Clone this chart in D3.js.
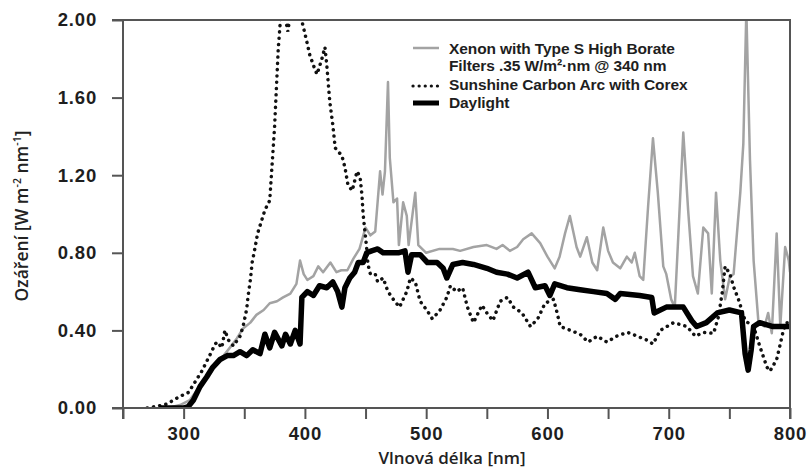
<!DOCTYPE html>
<html>
<head>
<meta charset="utf-8">
<script src="https://cdn.jsdelivr.net/npm/d3@7/dist/d3.min.js"></script>
<style>
  html, body { margin: 0; padding: 0; background: #fff; }
  svg { display: block; }
</style>
</head>
<body>
<svg id="chart" width="811" height="472"></svg>
<script>
// Spectral irradiance of three light sources, W m^-2 nm^-1 against wavelength (nm)

// Xenon arc with Type S high borate filters
const xenonNm = [280,290,297,305,313,322,327,333,338,344,349,355,360,366,371,377,382,388,393,396,399,402,407,411,415,421,426,430,435,440,445,450,454,458,462,464,466,468.5,470,473,476,477.5,481,484,485.5,491,493.5,500,511,522,528,539,550,558,563,569,575,580,587,594,600,606,610,614.5,618.5,624,627,632.5,637,641,646,650,654,660,665.5,669.5,672,676,679,683,687,691,695.5,698,702,705,708,712,716,720,724,728.5,732.5,735.5,739,742.5,746.5,750.5,753.5,759,761.5,764,767,770,774,779,782,785,789,792,796,799,800];
const xenonVal = [0,0.005,0.015,0.04,0.11,0.18,0.23,0.27,0.31,0.36,0.41,0.44,0.48,0.505,0.54,0.55,0.57,0.59,0.64,0.76,0.69,0.66,0.68,0.73,0.70,0.75,0.70,0.71,0.71,0.77,0.82,0.93,0.89,0.91,1.22,1.10,1.22,1.68,1.29,1.06,1.08,0.84,1.06,0.99,0.84,1.11,0.84,0.80,0.82,0.82,0.81,0.83,0.84,0.82,0.84,0.81,0.83,0.87,0.90,0.85,0.78,0.72,0.78,0.90,0.99,0.83,0.78,0.88,0.75,0.71,0.93,0.81,0.75,0.72,0.78,0.75,0.80,0.68,0.66,1.04,1.39,1.11,0.73,0.69,0.56,0.52,0.90,1.42,1.02,0.68,0.59,0.93,0.90,0.59,1.11,0.76,0.56,0.68,0.69,1.11,1.36,2.05,1.28,0.76,0.44,0.42,0.49,0.385,0.90,0.42,0.83,0.76,0.70];

// Sunshine carbon arc with Corex filters
const carbonNm = [270,279,286,297,304,309,315,319,323,326,328,331.5,334,337,341,346.5,349,352,353,355,356.5,359,361,364.5,367,371,375,378,381,386,390,395,398.5,401.5,404,408,410,414,416.5,418,420.5,423,425,430.5,433,435.5,439,443,445.5,447,448,449.5,451,452,454,458,460,464.5,468.5,474,478,484,487,491,495,501,505,511,517,520,525,530,534,539,546,550,555,561,567,572,579,586,592,598,605,608,610.5,619,627,633.5,641,649,657,666,674,682,687,693,704,715,722,728.5,737,741,744,746.5,750.5,753.5,757.5,763,770,775,781,783.5,789,792,794.5,797,800];
const carbonVal = [0,0.01,0.02,0.06,0.08,0.13,0.19,0.24,0.29,0.33,0.34,0.31,0.40,0.35,0.32,0.37,0.42,0.51,0.57,0.66,0.75,0.83,0.90,0.97,1.02,1.07,1.45,1.85,2.10,1.94,2.15,2.05,1.97,1.89,1.82,1.75,1.72,1.80,1.86,1.77,1.58,1.46,1.34,1.30,1.24,1.15,1.12,1.22,1.19,1.10,1.00,0.91,0.82,0.74,0.69,0.69,0.65,0.67,0.60,0.55,0.52,0.60,0.67,0.65,0.55,0.50,0.46,0.50,0.57,0.63,0.60,0.62,0.52,0.44,0.53,0.49,0.45,0.55,0.57,0.52,0.49,0.42,0.46,0.54,0.56,0.49,0.42,0.40,0.38,0.34,0.37,0.34,0.37,0.39,0.37,0.35,0.33,0.40,0.44,0.42,0.37,0.39,0.385,0.47,0.59,0.73,0.69,0.625,0.56,0.45,0.42,0.32,0.21,0.19,0.25,0.33,0.40,0.44,0.44];

// Daylight
const daylightNm = [280,300,303.5,308,313.5,319,324,330,336,341,346.5,352,357,363,367,371,375,381,384,388,392,396,397.5,402,407,412,418,423,427,430.5,433,437,441,444,448,451,455,460,464.5,472,477,482.5,485,488,495,501,509,514,517,522,530,539,550,558,567,575,584,590,598,602,606,616,627,638,649,656,660,676,686,688,698,712,719,723,731,740,750,760,763,765.5,768,770,775,786,800];
const daylightVal = [0,0,0.005,0.04,0.11,0.16,0.21,0.25,0.27,0.27,0.29,0.27,0.30,0.28,0.38,0.31,0.39,0.32,0.38,0.33,0.40,0.33,0.57,0.60,0.58,0.63,0.62,0.65,0.60,0.52,0.62,0.67,0.70,0.75,0.75,0.80,0.81,0.82,0.80,0.80,0.80,0.81,0.70,0.79,0.79,0.75,0.75,0.72,0.67,0.74,0.75,0.74,0.72,0.70,0.69,0.67,0.70,0.62,0.63,0.58,0.64,0.62,0.61,0.60,0.59,0.56,0.59,0.58,0.57,0.49,0.52,0.52,0.45,0.42,0.44,0.49,0.505,0.49,0.28,0.195,0.30,0.42,0.44,0.42,0.42];

// Axis ticks
const xTicks = [250,300,350,400,450,500,550,600,650,700,750,800];
const xLabelTicks = [300,400,500,600,700,800];
const yTicks = [0,0.4,0.8,1.2,1.6,2.0];

const svg = d3.select("#chart");
const axisColor = "#555";
const tickFont = "'Liberation Sans', Arial, sans-serif";

const x = d3.scaleLinear().domain([250, 800]).range([123, 790]);
const y = d3.scaleLinear().domain([0, 2]).range([408, 20]);

svg.append("defs").append("clipPath").attr("id", "plot-clip")
  .append("rect")
  .attr("x", x(250)).attr("y", y(2))
  .attr("width", x(800) - x(250)).attr("height", y(0) - y(2));

const zip = (nm, v) => nm.map((d, i) => [d, v[i]]);
const line = d3.line().x(d => x(d[0])).y(d => y(d[1]));

const plot = svg.append("g").attr("clip-path", "url(#plot-clip)");

plot.append("path")
  .attr("d", line(zip(xenonNm, xenonVal)))
  .attr("fill", "none").attr("stroke", "#a3a3a3")
  .attr("stroke-width", 2.5).attr("stroke-linejoin", "round");

plot.append("path")
  .attr("d", line(zip(carbonNm, carbonVal)))
  .attr("fill", "none").attr("stroke", "#111")
  .attr("stroke-width", 3.5).attr("stroke-linecap", "round")
  .attr("stroke-dasharray", "0.1 6.2");

plot.append("path")
  .attr("d", line(zip(daylightNm, daylightVal)))
  .attr("fill", "none").attr("stroke", "#000")
  .attr("stroke-width", 5.5).attr("stroke-linejoin", "round");

// Axes
const yAxis = d3.axisLeft(y).tickValues(yTicks).tickFormat(d3.format(".2f"))
  .tickSize(11).tickSizeOuter(0).tickPadding(15);
const xAxis = d3.axisBottom(x).tickValues(xTicks)
  .tickFormat(d => xLabelTicks.includes(d) ? d : "")
  .tickSize(11).tickSizeOuter(0).tickPadding(8);

const gy = svg.append("g").attr("transform", `translate(${x(250)},0)`).call(yAxis);
const gx = svg.append("g").attr("transform", `translate(0,${y(0)})`).call(xAxis);

[gx, gy].forEach(g => {
  g.select(".domain").remove();
  g.selectAll(".tick line").attr("stroke", axisColor).attr("stroke-width", 2);
  g.selectAll(".tick text")
    .attr("fill", "#1e1e1e")
    .style("font-family", tickFont)
    .style("font-size", "18.5px")
    .style("font-weight", "bold")
    .style("letter-spacing", "0.8px");
});

// Frame
const frame = svg.append("g").attr("stroke", axisColor).attr("stroke-width", 2).attr("fill", "none");
frame.append("line").attr("x1", x(250)).attr("x2", x(250)).attr("y1", y(2)).attr("y2", y(0) + 11);
frame.append("line").attr("x1", x(250) - 11).attr("x2", x(800) + 1).attr("y1", y(0)).attr("y2", y(0));
frame.append("line").attr("x1", x(250) - 11).attr("x2", x(800) + 1).attr("y1", y(2)).attr("y2", y(2));
frame.append("line").attr("x1", x(800)).attr("x2", x(800)).attr("y1", y(2)).attr("y2", y(0) + 11);

// Axis titles
const titleFont = "'Open Sans', 'Noto Sans', sans-serif";
svg.append("text")
  .attr("x", 452).attr("y", 464)
  .attr("text-anchor", "middle")
  .attr("fill", "#222")
  .style("font-family", titleFont).style("font-size", "17px").style("font-weight", 600)
  .text("Vlnová délka [nm]");

const yt = svg.append("text")
  .attr("transform", "translate(28,216) rotate(-90)")
  .attr("text-anchor", "middle")
  .attr("fill", "#222")
  .style("font-family", titleFont).style("font-size", "17.5px").style("font-weight", 600);
yt.append("tspan").text("Ozáření [W m");
yt.append("tspan").attr("dy", -7).style("font-size", "10.5px").text("-2");
yt.append("tspan").attr("dy", 7).text(" nm");
yt.append("tspan").attr("dy", -7).style("font-size", "10.5px").text("-1");
yt.append("tspan").attr("dy", 7).text("]");

// Legend
const legendFont = "'Liberation Sans', Arial, sans-serif";
const legend = svg.append("g");
const legendItems = [
  { y: 48, stroke: "#a3a3a3", width: 2.5, dash: null, cap: "butt" },
  { y: 86, stroke: "#111", width: 3.2, dash: "0.1 6", cap: "round" },
  { y: 103, stroke: "#000", width: 5, dash: null, cap: "butt" }
];
legendItems.forEach(d => {
  legend.append("line")
    .attr("x1", 413).attr("x2", 439).attr("y1", d.y).attr("y2", d.y)
    .attr("stroke", d.stroke).attr("stroke-width", d.width)
    .attr("stroke-dasharray", d.dash).attr("stroke-linecap", d.cap);
});
const legendLines = [
  { y: 54, t: "Xenon with Type S High Borate" },
  { y: 71, t: "Filters .35 W/m²·nm @ 340 nm" },
  { y: 90, t: "Sunshine Carbon Arc with Corex" },
  { y: 108, t: "Daylight" }
];
legendLines.forEach(d => {
  legend.append("text")
    .attr("x", 449).attr("y", d.y)
    .attr("fill", "#1e1e1e")
    .style("font-family", legendFont).style("font-size", "15.5px").style("font-weight", "bold")
    .style("letter-spacing", "-0.1px")
    .text(d.t);
});
</script>
</body>
</html>
